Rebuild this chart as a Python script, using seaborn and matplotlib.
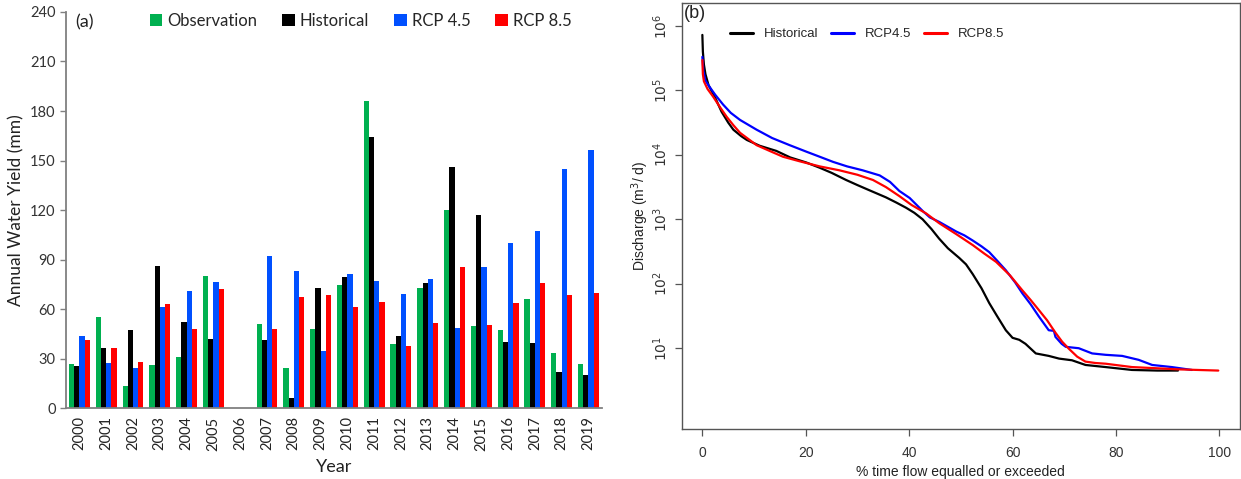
import numpy as np
import pandas as pd
import matplotlib
matplotlib.use("Agg")
import matplotlib.pyplot as plt
import seaborn as sns
from matplotlib.lines import Line2D

# ---------------- data: panel (a) ----------------
years = [str(y) for y in range(2000, 2020)]
series_names = ["Observation", "Historical", "RCP 4.5", "RCP 8.5"]
observation = [26.8, 55.1, 13.3, 26.0, 31.1, 80.1, np.nan, 51.1, 24.2, 48.0,
               74.3, 186.3, 39.0, 72.7, 120.3, 50.0, 47.4, 66.4, 33.3, 26.8]
historical = [25.6, 36.5, 47.6, 85.8, 52.1, 41.6, np.nan, 41.4, 6.3, 72.5,
              79.5, 164.5, 43.4, 75.7, 145.9, 116.7, 40.2, 39.6, 21.8, 20.0]
rcp45 = [43.8, 27.3, 24.2, 61.2, 70.9, 76.7, np.nan, 92.2, 83.0, 34.9,
         81.3, 77.1, 69.2, 78.5, 48.6, 85.6, 100.3, 107.6, 144.9, 156.4]
rcp85 = [41.0, 36.5, 28.0, 62.8, 48.0, 72.3, np.nan, 48.0, 67.6, 68.6,
         61.0, 64.4, 37.5, 51.7, 85.2, 50.5, 63.4, 76.1, 68.6, 69.8]
bar_colors = ["#00B050", "#000000", "#0050FF", "#FF0000"]
yticks_a = [0, 30, 60, 90, 120, 150, 180, 210, 240]

# ---------------- data: panel (b) flow duration curves ----------------
hist_x = [0, 0.1, 0.3, 0.6, 1.2, 2.4, 3.7, 5.0, 6.0, 7.5, 8.6, 11.1, 14.3, 17.0,
          20.1, 22.7, 25.0, 27.8, 30.0, 32.3, 35.5, 37.5, 39.4, 41.0, 42.6, 44.3,
          45.8, 47.5, 49.7, 51.0, 52.3, 54.0, 55.5, 57.0, 58.7, 60.0, 61.3, 62.5,
          64.5, 67.0, 69.0, 71.5, 74.1, 78.0, 83.1, 88.0, 92.0]
hist_q = [724000, 398000, 251000, 178000, 120000, 79400, 46800, 31600, 24500,
          19500, 17000, 13800, 11500, 9100, 7600, 6300, 5250, 4070, 3390, 2820,
          2190, 1820, 1510, 1260, 1000, 708, 501, 355, 251, 200, 141, 85, 50,
          31.6, 19, 14.5, 13.5, 11.7, 8.3, 7.6, 6.9, 6.5, 5.5, 5.1, 4.6, 4.5, 4.5]
r45_x = [0, 0.2, 0.6, 1.5, 2.5, 4.0, 5.5, 7.3, 10.5, 13.5, 16.9, 20.1, 22.7, 25.3,
         28.0, 31.0, 34.3, 36.3, 38.1, 40.1, 42.6, 44.0, 45.8, 49.1, 50.7, 52.3,
         54.0, 55.5, 57.0, 58.7, 60.5, 61.9, 63.5, 65.1, 67.0, 68.0, 68.3, 69.5,
         70.3, 72.8, 75.4, 78.0, 81.2, 84.4, 87.0, 90.8, 94.7]
r45_q = [331000, 200000, 141000, 110000, 85100, 60300, 44700, 34700, 24500,
         18200, 14100, 11200, 9330, 7760, 6610, 5750, 4790, 3800, 2750, 2140,
         1350, 1070, 912, 646, 562, 468, 380, 309, 229, 162, 105, 71, 48, 31,
         19, 18.6, 15, 11.7, 10.5, 10, 8.3, 7.9, 7.6, 6.6, 5.5, 5.1, 4.6]
r85_x = [0, 0.1, 0.3, 1.0, 2.1, 3.4, 4.7, 6.0, 7.3, 10.5, 13.0, 15.6, 18.8, 22.7,
         26.5, 30.0, 33.0, 35.5, 38.1, 40.5, 43.3, 45.8, 49.1, 52.3, 54.5, 56.8,
         59.5, 61.9, 63.5, 65.1, 66.7, 68.3, 69.6, 70.9, 72.5, 74.1, 76.0, 78.0,
         83.1, 87.6, 92.0, 99.8]
r85_q = [295000, 178000, 138000, 105000, 79400, 55000, 38900, 28800, 21900,
         14100, 11500, 9330, 7940, 6610, 5750, 4900, 4070, 3160, 2290, 1660,
         1230, 871, 589, 398, 295, 219, 135, 79, 56, 39, 27, 17.4, 12.6, 9.8,
         7.4, 6.2, 5.9, 5.75, 5.1, 4.9, 4.7, 4.5]
curve_names = ["Historical", "RCP4.5", "RCP8.5"]
curve_colors = ["#000000", "#0000FF", "#FF0000"]
xticks_b = [0, 20, 40, 60, 80, 100]
yticks_b = [1e1, 1e2, 1e3, 1e4, 1e5, 1e6]

# ---------------- build frames ----------------
rows = []
for name, vals in zip(series_names, [observation, historical, rcp45, rcp85]):
    for yr, v in zip(years, vals):
        if not np.isnan(v):
            rows.append({"Year": yr, "series": name, "value": v})
df_a = pd.DataFrame(rows)

rows = []
for name, xs, qs in zip(curve_names, [hist_x, r45_x, r85_x], [hist_q, r45_q, r85_q]):
    for xv, qv in zip(xs, qs):
        rows.append({"pct": xv, "Q": qv, "series": name})
df_b = pd.DataFrame(rows)

sns.set_style("ticks")
plt.rcParams["font.family"] = ["Lato", "DejaVu Sans"]

fig = plt.figure(figsize=(12.41, 4.79), dpi=100)
ax1 = fig.add_axes([0.0532, 0.148, 0.4318, 0.827])
ax2 = fig.add_axes([0.5493, 0.1044, 0.4499, 0.8887])

# ---------------- panel (a) ----------------
sns.barplot(data=df_a, x="Year", y="value", hue="series", order=years,
            hue_order=series_names, palette=bar_colors, width=0.78,
            saturation=1, errorbar=None, ax=ax1, linewidth=0)
ax1.set_xlim(-0.5, len(years) - 0.5)
ax1.set_ylim(0, 240)
ax1.set_yticks(yticks_a)
ax1.tick_params(axis="y", labelsize=10.5, colors="#333333", length=4,
                width=1, direction="out", color="#808080")
ax1.tick_params(axis="x", labelsize=10.5, rotation=90, length=0, pad=6,
                labelcolor="#222222")
for s in ["top", "right"]:
    ax1.spines[s].set_visible(False)
for s in ["left", "bottom"]:
    ax1.spines[s].set_color("#808080")
    ax1.spines[s].set_linewidth(1.3)
ax1.set_ylabel("Annual Water Yield (mm)", fontsize=12.5, color="#222222", labelpad=4)
ax1.set_xlabel("Year", fontsize=13, color="#222222", labelpad=6)
handles, labels = ax1.get_legend_handles_labels()
ax1.legend(handles, labels, loc="upper center", bbox_to_anchor=(0.55, 1.035),
           ncol=4, frameon=False, fontsize=12, handlelength=0.75,
           handleheight=0.75, handletextpad=0.3, columnspacing=1.5)
ax1.text(0.017, 0.995, "(a)", transform=ax1.transAxes, fontsize=13,
         va="top", ha="left", color="#222222")

# ---------------- panel (b) ----------------
sns.lineplot(data=df_b, x="pct", y="Q", hue="series", hue_order=curve_names,
             palette=curve_colors, estimator=None, linewidth=1.6, ax=ax2,
             legend=False)
ax2.set_yscale("log")
ax2.set_xlim(-4, 104)
ax2.set_ylim(10 ** -0.253, 10 ** 6.35)
ax2.set_xticks(xticks_b)
ax2.set_xticklabels([str(t) for t in xticks_b], family="Liberation Sans")
ax2.set_yticks(yticks_b)
ax2.yaxis.set_minor_locator(matplotlib.ticker.NullLocator())
ax2.set_yticklabels([r"$10^{%d}$" % int(np.log10(t)) for t in yticks_b],
                    rotation=90, va="center")
ax2.tick_params(axis="both", labelsize=10, colors="#333333", length=5,
                width=0.9, direction="out", color="#555555")
ax2.tick_params(axis="x", pad=7)
for s in ax2.spines.values():
    s.set_color("#555555")
    s.set_linewidth(1.0)
ax2.set_xlabel("% time flow equalled or exceeded", fontsize=10,
               family="Liberation Sans", color="#222222", labelpad=4)
ax2.set_ylabel("Discharge (m$^3$/ d)", fontsize=10, family="Liberation Sans",
               color="#222222", labelpad=0)
leg_handles = [Line2D([0], [0], color=c, lw=2.2) for c in curve_colors]
ax2.legend(leg_handles, curve_names, loc="upper left",
           bbox_to_anchor=(0.065, 0.97), ncol=3, frameon=False,
           prop={"family": "Liberation Sans", "size": 9.5},
           handlelength=1.75, handletextpad=0.8, columnspacing=1.0)
ax2.text(0.004, 0.995, "(b)", transform=ax2.transAxes, fontsize=13,
         family="Liberation Sans", va="top", ha="left", color="#222222")

fig.savefig("out.png", dpi=100)
